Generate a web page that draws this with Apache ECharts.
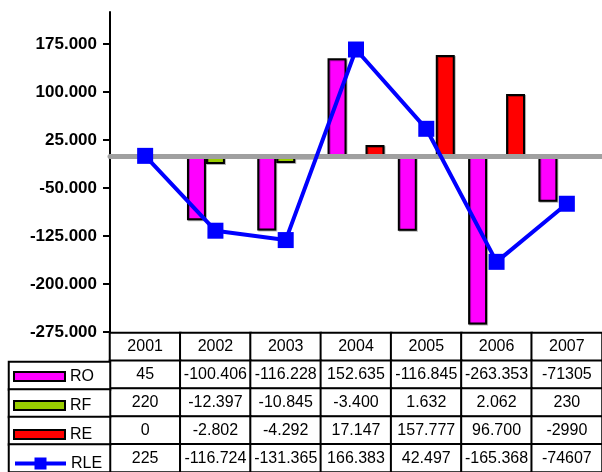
<!DOCTYPE html>
<html>
<head>
<meta charset="utf-8">
<script src="https://cdn.jsdelivr.net/npm/echarts@6/dist/echarts.min.js"></script>
<style>
html, body { margin: 0; padding: 0; background: #fff; }
#chart { width: 602px; height: 472px; }
</style>
</head>
<body>
<div id="chart"></div>
<script>
// Yearly results, one array per component
const years = ['2001', '2002', '2003', '2004', '2005', '2006', '2007'];
const ro  = [45, -100406, -116228, 152635, -116845, -263353, -71305];
const rf  = [220, -12397, -10845, -3400, 1632, 2062, 230];
const re  = [0, -2802, -4292, 17147, 157777, 96700, -2990];
const rle = [225, -116724, -131365, 166383, 42497, -165368, -74607];
const yTicks = [-275000, -200000, -125000, -50000, 25000, 100000, 175000];

const rowNames = ['RO', 'RF', 'RE', 'RLE'];
const rowValues = [ro, rf, re, rle];
const ungroupedYear = '2007'; // this column is printed without thousands separators

const FONT = 'Arial, "Liberation Sans", sans-serif';
const TABLE_FONT_SIZE = 16;

function grouped(v) {
  const s = String(Math.abs(v)).replace(/\B(?=(\d{3})+(?!\d))/g, '.');
  return (v < 0 ? '-' : '') + s;
}

function cellText(c, r) {
  if (r === 0) return years[c];
  const v = rowValues[r - 1][c];
  return years[c] === ungroupedYear ? String(v) : grouped(v);
}

// Data table: header row of years followed by one row per series
const tableData = [];
for (let r = 0; r <= rowValues.length; r++) {
  for (let c = 0; c < years.length; c++) {
    tableData.push([c, r, r === 0 ? 0 : rowValues[r - 1][c]]);
  }
}
// Key column next to the table
const keyData = rowNames.map((n, i) => [0, i, 0]);

const barStyle = (color) => ({
  color: color,
  borderColor: '#000',
  borderWidth: 2,
  shadowColor: 'rgba(0,0,0,0.3)',
  shadowOffsetX: 1,
  shadowOffsetY: 1,
  shadowBlur: 0
});

const ROW_H = 29;
const TABLE_TOP = 333;

const chart = echarts.init(document.getElementById('chart'), null, { renderer: 'canvas' });
chart.setOption({
  animation: false,
  backgroundColor: '#fff',
  textStyle: { fontFamily: FONT },
  grid: [
    { left: 110, top: 12, width: 494, height: 320 },
    { left: 110, top: TABLE_TOP, width: 494, height: ROW_H * 5 },
    { left: 9, top: TABLE_TOP + ROW_H, width: 101, height: ROW_H * 4 }
  ],
  xAxis: [
    {
      gridIndex: 0, type: 'category', data: years, z: 3,
      axisLine: { onZero: true, lineStyle: { color: '#a0a0a0', width: 5 } },
      axisTick: { show: false }, axisLabel: { show: false }
    },
    { gridIndex: 1, type: 'category', data: years, show: false },
    { gridIndex: 2, type: 'category', data: ['key'], show: false }
  ],
  yAxis: [
    {
      gridIndex: 0, type: 'value', min: -275000, max: 225000,
      axisLine: { show: true, lineStyle: { color: '#000', width: 2 } },
      axisTick: { show: true, length: 7, lineStyle: { color: '#000', width: 2 }, customValues: yTicks },
      axisLabel: {
        customValues: yTicks, margin: 13,
        fontFamily: FONT, fontWeight: 'bold', fontSize: 17, color: '#000',
        formatter: (v) => grouped(v)
      },
      splitLine: { show: false }
    },
    { gridIndex: 1, type: 'category', data: [''].concat(rowNames), inverse: true, show: false },
    { gridIndex: 2, type: 'category', data: rowNames, inverse: true, show: false }
  ],
  legend: [
    {
      data: ['RO', 'RF', 'RE'],
      orient: 'vertical', left: 13, top: TABLE_TOP + ROW_H + 4.5, padding: 0,
      itemWidth: 51, itemHeight: 9, itemGap: 9, icon: 'rect',
      selectedMode: false,
      itemStyle: { borderWidth: 2, borderColor: '#000' },
      textStyle: { fontFamily: FONT, fontSize: TABLE_FONT_SIZE, color: '#000', lineHeight: 20 }
    },
    {
      data: [{ name: 'RLE', lineStyle: { width: 4, color: '#0000ff' } }],
      orient: 'vertical', left: 13, top: TABLE_TOP + ROW_H * 4 + 4.5, padding: 0,
      itemWidth: 51, itemHeight: 15,
      selectedMode: false,
      lineStyle: { width: 4 },
      textStyle: { fontFamily: FONT, fontSize: TABLE_FONT_SIZE, color: '#000', lineHeight: 20 }
    }
  ],
  series: [
    {
      name: 'RO', type: 'bar', xAxisIndex: 0, yAxisIndex: 0, data: ro,
      barGap: '0%', barCategoryGap: '19%', itemStyle: barStyle('#ff00ff'), z: 2
    },
    {
      name: 'RF', type: 'bar', xAxisIndex: 0, yAxisIndex: 0, data: rf,
      barGap: '0%', barCategoryGap: '19%', itemStyle: barStyle('#99cc00'), z: 2
    },
    {
      name: 'RE', type: 'bar', xAxisIndex: 0, yAxisIndex: 0, data: re,
      barGap: '0%', barCategoryGap: '19%', itemStyle: barStyle('#ff0000'), z: 2
    },
    {
      name: 'RLE', type: 'line', xAxisIndex: 0, yAxisIndex: 0, data: rle,
      symbol: 'rect', symbolSize: 16, z: 5,
      lineStyle: { color: '#0000ff', width: 4 },
      itemStyle: { color: '#0000ff' }
    },
    {
      name: 'table', type: 'heatmap', xAxisIndex: 1, yAxisIndex: 1, data: tableData,
      itemStyle: { color: '#fff', borderColor: '#000', borderWidth: 2 },
      label: {
        show: true, fontFamily: FONT, fontSize: TABLE_FONT_SIZE, color: '#000',
        formatter: (p) => cellText(p.value[0], p.value[1])
      },
      emphasis: { disabled: true }
    },
    {
      name: 'key', type: 'heatmap', xAxisIndex: 2, yAxisIndex: 2, data: keyData,
      itemStyle: { color: '#fff', borderColor: '#000', borderWidth: 2 },
      label: { show: false },
      emphasis: { disabled: true }
    }
  ]
});
</script>
</body>
</html>
